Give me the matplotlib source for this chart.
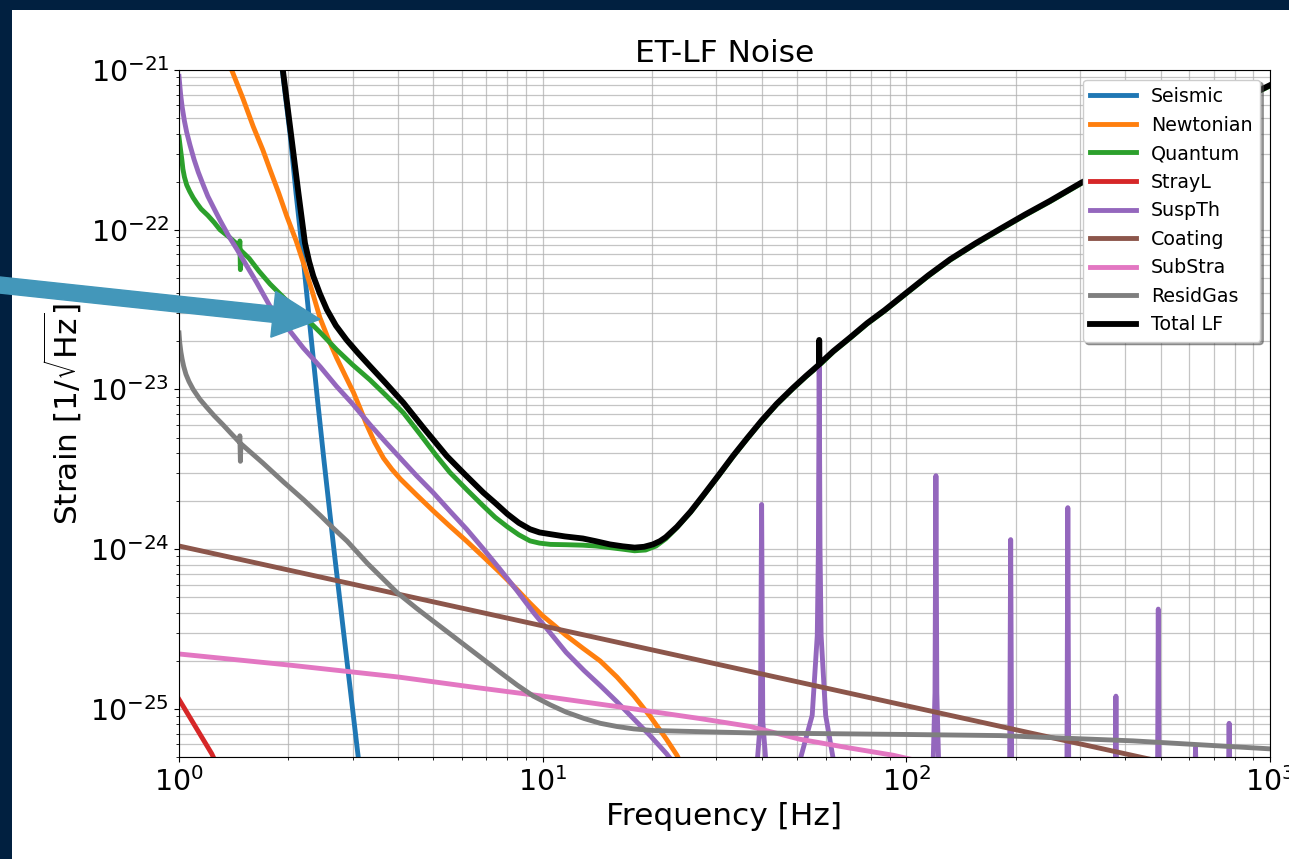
"""ET-LF noise budget: individual noise contributions and the total LF curve."""

import matplotlib

matplotlib.use("Agg")
import matplotlib.pyplot as plt
import numpy as np
from matplotlib.patches import FancyArrow, Rectangle
from matplotlib.transforms import IdentityTransform

# Amplitude spectral densities, stored as log10(strain / sqrt(Hz)) against frequency in Hz.
seismic_f = [1.85, 1.93, 2.02, 2.1, 2.2, 2.3, 2.4, 2.5, 2.66, 2.92, 3.11, 3.3]
seismic_log10 = [-20.72, -21.03, -21.40, -21.78, -22.2, -22.64, -23.05, -23.43,
                 -23.98, -24.77, -25.30, -25.8]

newtonian_f = [1.2, 1.3, 1.396, 1.5, 1.6, 1.7, 1.78, 1.88, 1.98, 2.1, 2.2, 2.32, 2.44,
               2.57, 2.71, 2.86, 3.02, 3.15, 3.28, 3.45, 3.65, 3.85, 4.06, 4.5, 5.0,
               5.55, 6.18, 6.85, 7.63, 8.48, 9.2, 10.0, 10.8, 11.6, 12.9, 14.4, 16.0,
               17.8, 19.8, 21.9, 23.4, 26.0]
newtonian_log10 = [-20.6, -20.8, -21.0, -21.18, -21.354, -21.5, -21.625, -21.77, -21.917,
                   -22.07, -22.21, -22.38, -22.55, -22.68, -22.8, -22.91, -23.02, -23.12,
                   -23.22, -23.33, -23.43, -23.5, -23.56, -23.66, -23.76, -23.855,
                   -23.95, -24.045, -24.146, -24.25, -24.335, -24.417, -24.48, -24.54,
                   -24.62, -24.70, -24.80, -24.917, -25.05, -25.19, -25.29, -25.5]

quantum_f = [1.0, 1.005, 1.01, 1.018, 1.025, 1.035, 1.05, 1.07, 1.094, 1.12, 1.15, 1.2,
             1.25, 1.296, 1.38, 1.46, 1.465, 1.47, 1.475, 1.48, 1.56, 1.66, 1.78, 1.95,
             2.2, 2.45, 2.71, 3.0, 3.35, 3.7, 4.14, 4.6, 5.11, 5.56, 6.2, 6.87, 7.4, 8.0,
             8.6, 9.23, 9.8, 10.5, 11.6, 12.9, 14.0, 15.3, 16.6, 17.9, 19.2, 20.5, 21.8,
             23.4, 25.5, 27.7, 30.5, 33.4, 36.5, 40.0, 44.0, 48.8, 53.0, 57.6, 63.0,
             70.0, 78.0, 87.0, 100.0, 115.0, 132.0, 155.0, 181.0, 212.0, 248.0, 303.0,
             350.0, 400.0, 500.0, 600.0, 700.0, 850.0, 1000.0]
quantum_log10 = [-21.42, -21.46, -21.5, -21.56, -21.62, -21.67, -21.72, -21.76, -21.80,
                 -21.835, -21.87, -21.91, -21.955, -22.0, -22.05, -22.10, -22.12, -22.07,
                 -22.25, -22.13, -22.18, -22.26, -22.34, -22.43, -22.54, -22.645, -22.75,
                 -22.845, -22.94, -23.035, -23.146, -23.28, -23.417, -23.52, -23.63,
                 -23.73, -23.80, -23.86, -23.91, -23.948, -23.962, -23.97, -23.972,
                 -23.975, -23.98, -23.99, -24.0, -24.01, -24.005, -23.98, -23.935,
                 -23.865, -23.77, -23.665, -23.54, -23.42, -23.31, -23.20, -23.095,
                 -22.995, -22.92, -22.85, -22.765, -22.68, -22.59, -22.51, -22.40,
                 -22.29, -22.19, -22.09, -22.0, -21.91, -21.825, -21.71, -21.64,
                 -21.565, -21.45, -21.355, -21.28, -21.18, -21.10]

strayl_f = [1.0, 1.23, 1.4]
strayl_log10 = [-24.94, -25.28, -25.55]

# suspension thermal continuum followed by the violin-mode resonances
suspth_f = [1.0, 1.01, 1.02, 1.035, 1.05, 1.072, 1.1, 1.13, 1.166, 1.2, 1.25, 1.296,
            1.37, 1.441, 1.53, 1.635, 1.78, 1.98, 2.196, 2.45, 2.71, 3.0, 3.35, 3.7,
            4.06, 4.5, 5.0, 5.55, 6.18, 6.85, 7.63, 8.5, 9.43, 10.5, 11.6, 13.0, 14.4,
            16.0, 17.8, 19.8, 21.9, 25.0, 30.0, 35.0,
            38.2, 39.0, 39.7, 40.0, 40.3, 41.0, 41.8,
            47.0,
            49.5, 51.3, 55.1, 56.9, 57.3, 57.6, 57.9, 58.3, 60.0, 62.8, 65.0,
            80.0,
            116.0, 118.3, 119.9, 120.6, 121.3, 122.9, 125.0,
            189.0, 192.4, 193.6, 194.8, 198.0,
            272.0, 276.5, 278.0, 279.5, 284.0,
            370.0, 375.5, 377.0, 378.5, 384.0,
            485.0, 491.0, 493.0, 495.0, 501.0,
            615.0, 622.0, 624.0, 626.0, 633.0,
            762.0, 769.5, 772.0, 774.5, 782.0,
            1000.0]
suspth_log10 = [-21.04, -21.15, -21.23, -21.32, -21.39, -21.47, -21.56, -21.64, -21.72,
                -21.79, -21.87, -21.94, -22.04, -22.12, -22.22, -22.33, -22.48, -22.61,
                -22.74, -22.86, -22.98, -23.09, -23.22, -23.33, -23.43, -23.54, -23.646,
                -23.76, -23.875, -23.995, -24.125, -24.26, -24.396, -24.525, -24.646,
                -24.76, -24.854, -24.955, -25.0625, -25.17, -25.28, -25.45, -25.7,
                -25.95,
                -26.2, -25.3, -25.08, -23.72, -25.08, -25.3, -26.2,
                -26.5,
                -26.0, -25.3, -25.04, -24.54, -24.0, -22.85, -24.0, -24.54, -25.04,
                -25.3, -26.0,
                -26.5,
                -26.5, -25.4, -24.9, -23.54, -24.9, -25.4, -26.5,
                -26.5, -25.3, -23.94, -25.3, -26.5,
                -26.5, -25.3, -23.74, -25.3, -26.5,
                -26.5, -25.4, -24.92, -25.4, -26.5,
                -26.5, -25.3, -24.375, -25.3, -26.5,
                -26.5, -25.4, -25.24, -25.4, -26.5,
                -26.5, -25.35, -25.09, -25.35, -26.5,
                -26.8]

coating_f = [1.0, 10.0, 100.0, 1000.0]
coating_log10 = [-23.98, -24.48, -24.98, -25.48]

substra_f = [1.0, 2.0, 4.0, 6.5, 10.0, 17.8, 27.0, 37.2, 51.0, 70.0, 92.0, 150.0, 300.0]
substra_log10 = [-24.656, -24.725, -24.80, -24.865, -24.92, -25.0, -25.06, -25.11,
                 -25.19, -25.245, -25.29, -25.4, -25.6]

residgas_f = [1.0, 1.005, 1.012, 1.02, 1.03, 1.045, 1.065, 1.094, 1.14, 1.19, 1.25,
              1.32, 1.39, 1.465, 1.47, 1.475, 1.48, 1.7, 1.94, 2.2, 2.45, 2.66, 2.9,
              3.3, 3.97, 4.5, 5.0, 5.56, 6.18, 6.87, 7.63, 8.5, 9.43, 10.5, 11.6, 13.0,
              14.4, 16.0, 17.8, 20.0, 24.4, 37.2, 100.0, 181.0, 420.0, 1000.0]
residgas_log10 = [-22.646, -22.71, -22.765, -22.81, -22.855, -22.905, -22.95, -23.0,
                  -23.06, -23.11, -23.165, -23.22, -23.275, -23.33, -23.29, -23.45,
                  -23.34, -23.46, -23.58, -23.69, -23.79, -23.87, -23.95, -24.09, -24.27,
                  -24.37, -24.45, -24.53, -24.61, -24.69, -24.77, -24.85, -24.92, -24.975,
                  -25.02, -25.06, -25.09, -25.11, -25.125, -25.135, -25.14, -25.15,
                  -25.16, -25.167, -25.2, -25.25]

total_f = [1.85, 1.93, 2.02, 2.13, 2.22, 2.28, 2.34, 2.44, 2.55, 2.7, 2.89, 3.1, 3.35,
           3.7, 4.14, 4.7, 5.45, 6.1, 6.87, 7.4, 8.0, 8.6, 9.23, 9.8, 10.5, 11.5, 12.9,
           14.0, 15.3, 16.6, 17.9, 19.0, 20.1, 21.0, 21.8, 23.4, 25.5, 27.7, 30.5, 33.4,
           36.5, 40.0, 44.0, 48.8, 53.0, 57.5, 57.6, 57.7, 63.0, 70.0, 78.0, 87.0,
           100.0, 115.0, 132.0, 155.0, 181.0, 212.0, 248.0, 303.0, 350.0, 400.0, 500.0,
           600.0, 700.0, 850.0, 1000.0]
total_log10 = [-20.7, -21.0, -21.354, -21.77, -22.083, -22.2, -22.29, -22.40, -22.5,
               -22.6, -22.69, -22.77, -22.854, -22.96, -23.083, -23.24, -23.417, -23.53,
               -23.646, -23.71, -23.78, -23.835, -23.875, -23.895, -23.906, -23.92,
               -23.933, -23.95, -23.97, -23.982, -23.99, -23.985, -23.97, -23.95,
               -23.925, -23.86, -23.765, -23.66, -23.535, -23.415, -23.305, -23.195,
               -23.09, -22.99, -22.915, -22.845, -22.69, -22.84, -22.76, -22.675,
               -22.585, -22.505, -22.395, -22.285, -22.185, -22.085, -21.995, -21.905,
               -21.82, -21.705, -21.635, -21.56, -21.445, -21.35, -21.275, -21.175,
               -21.095]

CURVES = [
    ("Seismic", seismic_f, seismic_log10, "tab:blue"),
    ("Newtonian", newtonian_f, newtonian_log10, "tab:orange"),
    ("Quantum", quantum_f, quantum_log10, "tab:green"),
    ("StrayL", strayl_f, strayl_log10, "tab:red"),
    ("SuspTh", suspth_f, suspth_log10, "tab:purple"),
    ("Coating", coating_f, coating_log10, "tab:brown"),
    ("SubStra", substra_f, substra_log10, "tab:pink"),
    ("ResidGas", residgas_f, residgas_log10, "tab:gray"),
]

W, H = 1289, 859
NAVY = "#012040"
ARROW_BLUE = "#4397ba"

fig = plt.figure(figsize=(W / 100, H / 100), dpi=100, facecolor=NAVY)
# white slide panel behind the plot
fig.add_artist(Rectangle((12 / W, 0), 1, (H - 10) / H, transform=fig.transFigure,
                         facecolor="white", edgecolor="none", zorder=-10))

ax = fig.add_axes([179 / W, 1 - 757 / H, (1270 - 179) / W, (757 - 70) / H])

for label, f, lg, color in CURVES:
    ax.loglog(f, 10.0 ** np.array(lg), color=color, lw=3.5, label=label)
ax.loglog(total_f, 10.0 ** np.array(total_log10), color="black", lw=4.2, label="Total LF")

ax.set_xlim(1, 1000)
ax.set_ylim(5e-26, 1e-21)
ax.grid(True, which="both", color="#b0b0b0", lw=0.9, alpha=0.75)
ax.tick_params(axis="both", which="major", labelsize=20.5)
ax.set_xlabel("Frequency [Hz]", fontsize=22.5)
ax.set_ylabel(r"Strain [1/$\sqrt{\mathrm{Hz}}$]", fontsize=22.5)
ax.set_title("ET-LF Noise", fontsize=22.5)
ax.legend(loc="upper right", fontsize=13.7, handlelength=2.4, shadow=True,
          framealpha=1.0)

# pointer towards the knee of the total curve
fig.add_artist(FancyArrow(-5, 574.5, 325, -34.8, width=16, head_width=46,
                          head_length=47, length_includes_head=True,
                          color=ARROW_BLUE, transform=IdentityTransform(), zorder=5))

fig.savefig("out.png", dpi=100, facecolor=NAVY)
